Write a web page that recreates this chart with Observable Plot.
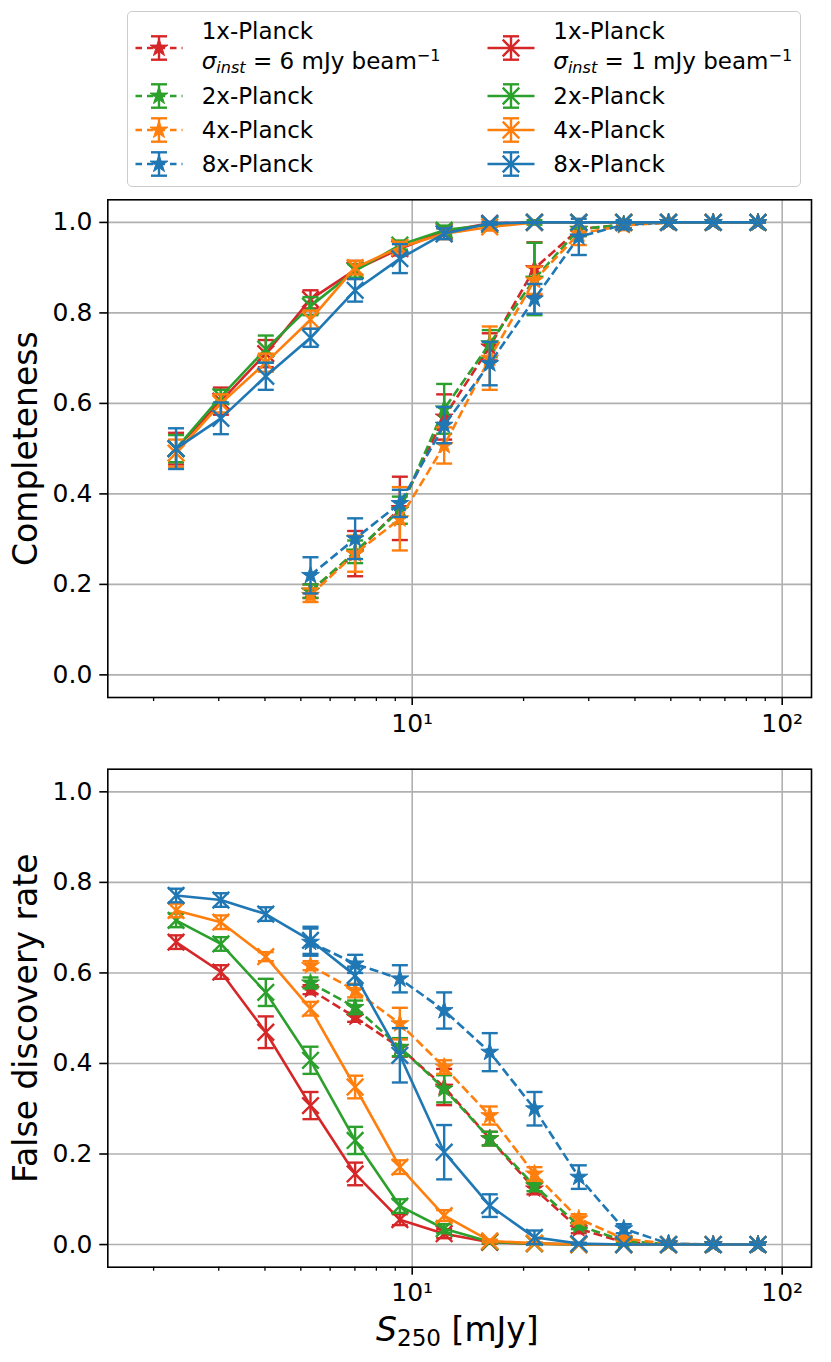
<!DOCTYPE html>
<html>
<head>
<meta charset="utf-8">
<script src="https://cdn.jsdelivr.net/npm/d3@7"></script>
<script src="https://cdn.jsdelivr.net/npm/@observablehq/plot@0.6"></script>
<style>
  body { margin: 0; background: #fff; font-family: "DejaVu Sans", sans-serif; }
  #wrap { position: relative; width: 831px; height: 1362px; overflow: hidden; background: #fff; }
  .lgbox { position: absolute; left: 126.5px; top: 11px; width: 674px; height: 176px; box-sizing: border-box;
           border: 1.6px solid #cccccc; border-radius: 5px; background: #fff; }
  .lgtext { position: absolute; font-size: 23px; line-height: 23px; white-space: nowrap; color: #000; }
  .sub { font-size: 0.7em; position: relative; top: 0.22em; }
  .sup { font-size: 0.7em; position: relative; top: -0.5em; }
  .xlabel { position: absolute; font-size: 33px; line-height: 33px; white-space: nowrap; color: #000; }
</style>
</head>
<body>
<div id="wrap"></div>
<script>
// ---------------- data ----------------
const flux = [2.30, 3.04, 4.02, 5.31, 7.01, 9.26, 12.2, 16.2, 21.4, 28.2, 37.3, 49.3, 65.1, 86.0];
const planckLabels = ["1x-Planck", "2x-Planck", "4x-Planck", "8x-Planck"];
const palette = ["#d62728", "#2ca02c", "#ff7f0e", "#1f77b4"];
const yTicks = [0, 0.2, 0.4, 0.6, 0.8, 1.0];
const xMajor = [10, 100];
const xTickLabels = ["10\u00B9", "10\u00B2"];
const xMinor = [2, 3, 4, 5, 6, 7, 8, 9, 20, 30, 40, 50, 60, 70, 80, 90];

// Completeness, sigma_inst = 6 mJy/beam (dashed, stars)
const comp6_1x    = [null, null, null, 0.185, 0.268, 0.368, 0.570, 0.725, 0.898, 0.985, 0.995, 1.0, 1.0, 1.0];
const comp6_1xErr = [null, null, null, 0.015, 0.050, 0.070, 0.050, 0.030, 0.058, 0.015, 0.008, 0, 0, 0];
const comp6_2x    = [null, null, null, 0.185, 0.272, 0.364, 0.588, 0.732, 0.875, 0.985, 0.995, 1.0, 1.0, 1.0];
const comp6_2xErr = [null, null, null, 0.015, 0.025, 0.030, 0.055, 0.030, 0.080, 0.015, 0.008, 0, 0, 0];
const comp6_4x    = [null, null, null, 0.176, 0.268, 0.345, 0.507, 0.700, 0.872, 0.975, 0.993, 1.0, 1.0, 1.0];
const comp6_4xErr = [null, null, null, 0.015, 0.040, 0.070, 0.040, 0.070, 0.030, 0.025, 0.010, 0, 0, 0];
const comp6_8x    = [null, null, null, 0.220, 0.301, 0.379, 0.552, 0.688, 0.831, 0.968, 0.995, 1.0, 1.0, 1.0];
const comp6_8xErr = [null, null, null, 0.040, 0.045, 0.030, 0.040, 0.048, 0.033, 0.040, 0.010, 0, 0, 0];

// Completeness, sigma_inst = 1 mJy/beam (solid, x markers)
const comp1_1x    = [0.500, 0.605, 0.710, 0.830, 0.895, 0.942, 0.980, 0.998, 1.0, 1.0, 1.0, 1.0, 1.0, 1.0];
const comp1_1xErr = [0.035, 0.030, 0.030, 0.020, 0.020, 0.015, 0.010, 0.003, 0, 0, 0, 0, 0, 0];
const comp1_2x    = [0.500, 0.615, 0.720, 0.815, 0.893, 0.950, 0.983, 0.995, 1.0, 1.0, 1.0, 1.0, 1.0, 1.0];
const comp1_2xErr = [0.030, 0.015, 0.030, 0.020, 0.015, 0.010, 0.010, 0.005, 0.005, 0, 0, 0, 0, 0];
const comp1_4x    = [0.490, 0.600, 0.690, 0.785, 0.900, 0.945, 0.975, 0.990, 1.0, 1.0, 1.0, 1.0, 1.0, 1.0];
const comp1_4xErr = [0.030, 0.020, 0.020, 0.020, 0.015, 0.012, 0.012, 0.008, 0, 0, 0, 0, 0, 0];
const comp1_8x    = [0.500, 0.567, 0.660, 0.745, 0.850, 0.920, 0.975, 0.998, 1.0, 1.0, 1.0, 1.0, 1.0, 1.0];
const comp1_8xErr = [0.045, 0.035, 0.030, 0.020, 0.025, 0.032, 0.012, 0.003, 0, 0, 0, 0, 0, 0];

// False discovery rate, sigma_inst = 6 mJy/beam (dashed, stars)
const fdr6_1x    = [null, null, null, 0.563, 0.502, 0.435, 0.348, 0.234, 0.123, 0.035, 0.005, 0.001, 0, 0];
const fdr6_1xErr = [null, null, null, 0.010, 0.010, 0.020, 0.040, 0.015, 0.012, 0.010, 0.005, 0.001, 0, 0];
const fdr6_2x    = [null, null, null, 0.578, 0.524, 0.436, 0.344, 0.234, 0.130, 0.042, 0.008, 0.001, 0, 0];
const fdr6_2xErr = [null, null, null, 0.012, 0.015, 0.020, 0.030, 0.015, 0.012, 0.008, 0.005, 0.001, 0, 0];
const fdr6_4x    = [null, null, null, 0.616, 0.561, 0.488, 0.392, 0.285, 0.156, 0.057, 0.013, 0.002, 0, 0];
const fdr6_4xErr = [null, null, null, 0.010, 0.015, 0.035, 0.015, 0.020, 0.015, 0.010, 0.005, 0.001, 0, 0];
const fdr6_8x    = [null, null, null, 0.668, 0.620, 0.587, 0.517, 0.425, 0.300, 0.149, 0.035, 0.002, 0, 0];
const fdr6_8xErr = [null, null, null, 0.030, 0.020, 0.030, 0.040, 0.042, 0.037, 0.026, 0.010, 0.002, 0, 0];

// False discovery rate, sigma_inst = 1 mJy/beam (solid, x markers)
const fdr1_1x    = [0.668, 0.602, 0.469, 0.307, 0.156, 0.055, 0.024, 0.005, 0.002, 0, 0, 0, 0, 0];
const fdr1_1xErr = [0.015, 0.015, 0.035, 0.030, 0.025, 0.012, 0.010, 0.003, 0.002, 0, 0, 0, 0, 0];
const fdr1_2x    = [0.716, 0.664, 0.557, 0.407, 0.230, 0.085, 0.035, 0.006, 0.002, 0, 0, 0, 0, 0];
const fdr1_2xErr = [0.015, 0.015, 0.030, 0.030, 0.030, 0.015, 0.010, 0.003, 0.002, 0, 0, 0, 0, 0];
const fdr1_4x    = [0.738, 0.712, 0.636, 0.521, 0.348, 0.171, 0.064, 0.008, 0.003, 0, 0, 0, 0, 0];
const fdr1_4xErr = [0.015, 0.015, 0.010, 0.015, 0.025, 0.015, 0.012, 0.003, 0.002, 0, 0, 0, 0, 0];
const fdr1_8x    = [0.771, 0.761, 0.730, 0.672, 0.594, 0.418, 0.204, 0.086, 0.016, 0.002, 0, 0, 0, 0];
const fdr1_8xErr = [0.015, 0.015, 0.015, 0.030, 0.020, 0.060, 0.060, 0.025, 0.015, 0.002, 0, 0, 0, 0];

// ---------------- helpers ----------------
const capSymbol = { draw(ctx) { ctx.moveTo(-8, 0); ctx.lineTo(8, 0); } };

function toRows(vals, errs) {
  return flux.map((x, i) => ({ x, y: vals[i], e: errs[i] })).filter(d => d.y != null);
}

function seriesMarks(vals, errs, color, dashed) {
  const rows = toRows(vals, errs);
  return [
    Plot.ruleX(rows, { x: "x", y1: d => d.y - d.e, y2: d => d.y + d.e, stroke: color, strokeWidth: 2.4 }),
    Plot.dot(rows, { x: "x", y: d => d.y + d.e, symbol: capSymbol, r: 4, stroke: color, strokeWidth: 2.4, fill: "none" }),
    Plot.dot(rows, { x: "x", y: d => d.y - d.e, symbol: capSymbol, r: 4, stroke: color, strokeWidth: 2.4, fill: "none" }),
    Plot.line(rows, { x: "x", y: "y", stroke: color, strokeWidth: 2.6,
                      strokeDasharray: dashed ? "9,4" : undefined, strokeLinecap: dashed ? "butt" : "round" }),
    dashed
      ? Plot.dot(rows, { x: "x", y: "y", symbol: "star", r: 5.6, fill: color, stroke: color, strokeWidth: 1 })
      : Plot.dot(rows, { x: "x", y: "y", symbol: "times", r: 7.6, stroke: color, strokeWidth: 2.4, fill: "none" })
  ];
}

function panel(dashedVals, dashedErrs, solidVals, solidErrs, ylabel, opts) {
  const marks = [
    Plot.gridY(yTicks, { stroke: "#b0b0b0", strokeOpacity: 1, strokeWidth: 1.6 }),
    Plot.gridX(xMajor, { stroke: "#b0b0b0", strokeOpacity: 1, strokeWidth: 1.6 })
  ];
  dashedVals.forEach((v, i) => marks.push(...seriesMarks(v, dashedErrs[i], palette[i], true)));
  solidVals.forEach((v, i) => marks.push(...seriesMarks(v, solidErrs[i], palette[i], false)));
  marks.push(
    Plot.axisY(yTicks, { tickSize: 8, tickPadding: 7.5, tickFormat: d3.format(".1f"), label: null,
                         fontSize: 25, strokeWidth: 1.6 }),
    Plot.axisX(xMajor, { tickSize: 8, tickPadding: 8.5, tickFormat: d => xTickLabels[xMajor.indexOf(d)],
                         label: null, fontSize: 25, strokeWidth: 1.6 }),
    Plot.axisX(xMinor, { tickSize: 4, tickFormat: () => "", label: null, strokeWidth: 1.3 }),
    Plot.text([ylabel], { text: d => d, frameAnchor: "left", rotate: -90, dx: -81, fontSize: 33,
                          textAnchor: "middle", lineAnchor: "middle", fill: "black" }),
    Plot.frame({ stroke: "black", strokeWidth: 1.6 })
  );
  return Plot.plot({
    width: 831,
    height: opts.height,
    marginLeft: 107.3,
    marginRight: 20,
    marginTop: opts.marginTop,
    marginBottom: opts.marginBottom,
    x: { type: "log", domain: [1.504, 120] },
    y: { domain: [-0.05, 1.05] },
    style: { fontFamily: "DejaVu Sans", color: "black", background: "transparent", overflow: "visible" },
    marks
  });
}

// ---------------- build page ----------------
const wrap = document.getElementById("wrap");

const topPanel = panel(
  [comp6_1x, comp6_2x, comp6_4x, comp6_8x], [comp6_1xErr, comp6_2xErr, comp6_4xErr, comp6_8xErr],
  [comp1_1x, comp1_2x, comp1_4x, comp1_8x], [comp1_1xErr, comp1_2xErr, comp1_4xErr, comp1_8xErr],
  "Completeness", { height: 570, marginTop: 9.3, marginBottom: 63 });
Object.assign(topPanel.style, { position: "absolute", left: "0px", top: "190px" });
wrap.appendChild(topPanel);

const bottomPanel = panel(
  [fdr6_1x, fdr6_2x, fdr6_4x, fdr6_8x], [fdr6_1xErr, fdr6_2xErr, fdr6_4xErr, fdr6_8xErr],
  [fdr1_1x, fdr1_2x, fdr1_4x, fdr1_8x], [fdr1_1xErr, fdr1_2xErr, fdr1_4xErr, fdr1_8xErr],
  "False discovery rate", { height: 560, marginTop: 8.7, marginBottom: 53.3 });
Object.assign(bottomPanel.style, { position: "absolute", left: "0px", top: "760px" });
wrap.appendChild(bottomPanel);

// x label
const xl = document.createElement("div");
xl.className = "xlabel";
xl.innerHTML = '<i>S</i><span class="sub">250</span> [mJy]';
xl.style.left = "376px";
xl.style.top = (1341 - 26.2 * 33 / 31) + "px";
wrap.appendChild(xl);

// legend
const box = document.createElement("div");
box.className = "lgbox";
wrap.appendChild(box);

const starPath = d3.symbol(d3.symbolStar, Math.PI * 5.6 * 5.6)();
const timesPath = d3.symbol(d3.symbolTimes, Math.PI * 7.6 * 7.6)();

function handle(cx, cy, color, dashed) {
  const ns = "http://www.w3.org/2000/svg";
  const s = document.createElementNS(ns, "svg");
  s.setAttribute("width", 60); s.setAttribute("height", 32);
  Object.assign(s.style, { position: "absolute", left: (cx - 30) + "px", top: (cy - 16) + "px", overflow: "visible" });
  const g = d3.select(s).append("g").attr("transform", "translate(30,16)");
  g.append("line").attr("x1", -23.5).attr("x2", 23.5).attr("y1", 0).attr("y2", 0)
    .attr("stroke", color).attr("stroke-width", 2.6).attr("stroke-dasharray", dashed ? "6.5,5" : null);
  g.append("line").attr("x1", 0).attr("x2", 0).attr("y1", -11.7).attr("y2", 11.7)
    .attr("stroke", color).attr("stroke-width", 2.4);
  [-11.7, 11.7].forEach(y => g.append("line").attr("x1", -8).attr("x2", 8).attr("y1", y).attr("y2", y)
    .attr("stroke", color).attr("stroke-width", 2.4));
  if (dashed) g.append("path").attr("d", starPath).attr("fill", color).attr("stroke", color).attr("stroke-width", 1);
  else g.append("path").attr("d", timesPath).attr("fill", "none").attr("stroke", color).attr("stroke-width", 2.4);
  wrap.appendChild(s);
}

function label(x, baseline, html) {
  const d = document.createElement("div");
  d.className = "lgtext";
  d.style.left = x + "px";
  d.style.top = (baseline - 19.5) + "px";
  d.innerHTML = html;
  wrap.appendChild(d);
}

const rowCenters = [48.3, 95.7, 130, 164.3];
const rowBaselines = [39.5, 104, 138.3, 172.3];
const columns = [
  { hx: 158.5, tx: 201.7, dashed: true, sigma: "6" },
  { hx: 510.5, tx: 553.3, dashed: false, sigma: "1" }
];
columns.forEach(col => {
  planckLabels.forEach((lab, i) => {
    handle(col.hx, rowCenters[i], palette[i], col.dashed);
    label(col.tx, rowBaselines[i], lab);
  });
  label(col.tx, 69.5, '<i>\u03C3</i><span class="sub"><i>inst</i></span> = ' + col.sigma +
        ' mJy beam<span class="sup">\u22121</span>');
});
</script>
</body>
</html>
